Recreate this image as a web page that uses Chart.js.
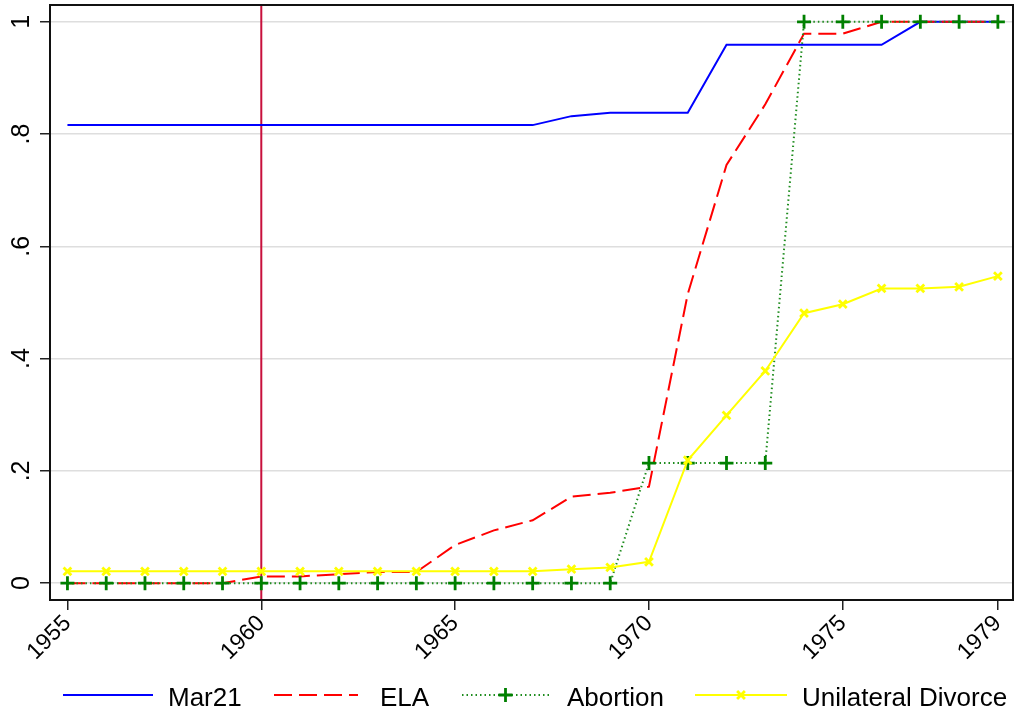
<!DOCTYPE html>
<html>
<head>
<meta charset="utf-8">
<script src="https://cdn.jsdelivr.net/npm/chart.js@4"></script>
<style>
  body { margin: 0; background: #fff; }
  #wrap { width: 1019px; height: 713px; position: relative; }
</style>
</head>
<body>
<div id="wrap"><canvas id="grafico"></canvas></div>
<script>
const anos = [1955, 1956, 1957, 1958, 1959, 1960, 1961, 1962, 1963, 1964, 1965, 1966, 1967,
  1968, 1969, 1970, 1971, 1972, 1973, 1974, 1975, 1976, 1977, 1978, 1979];
const mar21 = [0.816, 0.816, 0.816, 0.816, 0.816, 0.816, 0.816, 0.816, 0.816, 0.816, 0.816, 0.816, 0.816,
  0.832, 0.838, 0.838, 0.838, 0.959, 0.959, 0.959, 0.959, 0.959, 1, 1, 1];
const ela = [0, 0, 0, 0, 0, 0.012, 0.012, 0.016, 0.02, 0.02, 0.068, 0.094, 0.112,
  0.154, 0.161, 0.172, 0.515, 0.745, 0.853, 0.979, 0.979, 1, 1, 1, 1];
const aborto = [0, 0, 0, 0, 0, 0, 0, 0, 0, 0, 0, 0, 0,
  0, 0, 0.214, 0.214, 0.214, 0.214, 1, 1, 1, 1, 1, 1];
const divorcio = [0.021, 0.021, 0.021, 0.021, 0.021, 0.021, 0.021, 0.021, 0.021, 0.021, 0.021, 0.021, 0.021,
  0.025, 0.028, 0.038, 0.219, 0.299, 0.378, 0.481, 0.497, 0.525, 0.525, 0.528, 0.547];
const ticksX = [1955, 1960, 1965, 1970, 1975, 1979];
const ticksY = [0, 0.2, 0.4, 0.6, 0.8, 1];
const rotulosY = ['0', '.2', '.4', '.6', '.8', '1'];
const anoLinha = 1960;

const FONTE = '"Liberation Sans", Arial, Helvetica, sans-serif';
const pares = arr => arr.map((v, i) => ({ x: anos[i], y: v }));

// linha vertical, rotulos do eixo y, moldura e legenda
const extras = {
  id: 'extras',
  beforeDatasetsDraw(chart) {
    const { ctx, chartArea, scales } = chart;
    const x = scales.x.getPixelForValue(anoLinha);
    ctx.save();
    ctx.strokeStyle = 'rgb(200, 16, 60)';
    ctx.lineWidth = 2;
    ctx.beginPath();
    ctx.moveTo(x, chartArea.top);
    ctx.lineTo(x, chartArea.bottom);
    ctx.stroke();
    ctx.restore();
  },
  afterDraw(chart) {
    const { ctx, chartArea, scales } = chart;
    ctx.save();
    // moldura
    ctx.strokeStyle = '#111';
    ctx.lineWidth = 2;
    ctx.strokeRect(chartArea.left, chartArea.top, chartArea.right - chartArea.left, chartArea.bottom - chartArea.top);

    // rotulos y girados
    ctx.fillStyle = '#000';
    ctx.font = '25px ' + FONTE;
    ctx.textAlign = 'center';
    ctx.textBaseline = 'alphabetic';
    ticksY.forEach((v, i) => {
      const y = scales.y.getPixelForValue(v);
      ctx.save();
      ctx.translate(29, y);
      ctx.rotate(-Math.PI / 2);
      ctx.fillText(rotulosY[i], 0, 0);
      ctx.restore();
    });

    // legenda
    const yc = 695;
    const itens = [
      { ds: 0, x0: 63, x1: 153, tx: 168 },
      { ds: 1, x0: 274, x1: 358, tx: 380 },
      { ds: 2, x0: 462, x1: 549, tx: 567 },
      { ds: 3, x0: 695, x1: 787, tx: 802 }
    ];
    itens.forEach(it => {
      const ds = chart.data.datasets[it.ds];
      ctx.save();
      ctx.strokeStyle = ds.borderColor;
      ctx.lineWidth = ds.borderWidth;
      ctx.setLineDash(ds.borderDash || []);
      ctx.beginPath();
      ctx.moveTo(it.x0, yc);
      ctx.lineTo(it.x1, yc);
      ctx.stroke();
      ctx.restore();
      if (ds.pointRadius > 0) {
        ctx.save();
        ctx.strokeStyle = ds.pointBorderColor;
        ctx.fillStyle = ds.pointBorderColor;
        ctx.lineWidth = ds.pointBorderWidth;
        Chart.helpers.drawPoint(ctx, {
          pointStyle: ds.pointStyle,
          rotation: 0,
          radius: ds.pointRadius,
          borderWidth: ds.pointBorderWidth
        }, (it.x0 + it.x1) / 2, yc);
        ctx.restore();
      }
      ctx.save();
      ctx.fillStyle = '#000';
      ctx.font = '26px ' + FONTE;
      ctx.textAlign = 'left';
      ctx.textBaseline = 'alphabetic';
      ctx.fillText(ds.label, it.tx, yc + 11);
      ctx.restore();
    });
    ctx.restore();
  }
};

new Chart(document.getElementById('grafico'), {
  type: 'line',
  data: {
    datasets: [
      {
        label: 'Mar21',
        data: pares(mar21),
        borderColor: 'rgb(0, 0, 255)',
        borderWidth: 2,
        pointRadius: 0,
        order: 4
      },
      {
        label: 'ELA',
        data: pares(ela),
        borderColor: 'rgb(255, 0, 0)',
        borderWidth: 2,
        borderDash: [18, 7],
        pointRadius: 0,
        order: 3
      },
      {
        label: 'Abortion',
        data: pares(aborto),
        borderColor: 'rgb(30, 140, 30)',
        borderWidth: 2,
        borderDash: [1.5, 3],
        pointStyle: 'cross',
        pointRadius: 7,
        pointBorderWidth: 2.8,
        pointBorderColor: 'rgb(0, 128, 0)',
        order: 2
      },
      {
        label: 'Unilateral Divorce',
        data: pares(divorcio),
        borderColor: 'rgb(255, 255, 0)',
        borderWidth: 2,
        pointStyle: 'crossRot',
        pointRadius: 5.5,
        pointBorderWidth: 2.8,
        pointBorderColor: 'rgb(255, 255, 0)',
        order: 1
      }
    ]
  },
  plugins: [extras],
  options: {
    responsive: true,
    maintainAspectRatio: false,
    animation: false,
    layout: { autoPadding: false, padding: { top: 5, right: 6, bottom: 53, left: 0 } },
    scales: {
      x: {
        type: 'linear',
        min: 1954.55,
        max: 1979.39,
        afterBuildTicks: s => { s.ticks = ticksX.map(v => ({ value: v })); },
        afterFit: s => { s.height = 60; s.paddingLeft = 0; s.paddingRight = 0; },
        border: { display: false },
        grid: {
          drawOnChartArea: false,
          tickLength: 10,
          tickColor: '#222',
          lineWidth: 1.5
        },
        ticks: {
          minRotation: 45,
          maxRotation: 45,
          padding: 0,
          color: '#000',
          font: { family: FONTE, size: 23 },
          callback: v => String(v)
        }
      },
      y: {
        min: -0.03,
        max: 1.03,
        afterBuildTicks: s => { s.ticks = ticksY.map(v => ({ value: v })); },
        afterFit: s => { s.width = 50; s.paddingTop = 0; s.paddingBottom = 0; },
        border: { display: false },
        grid: {
          color: 'rgb(222, 222, 222)',
          lineWidth: 1.5,
          tickLength: 10,
          tickColor: '#222'
        },
        ticks: { display: false }
      }
    },
    plugins: {
      legend: { display: false },
      tooltip: { enabled: false }
    }
  }
});
</script>
</body>
</html>
